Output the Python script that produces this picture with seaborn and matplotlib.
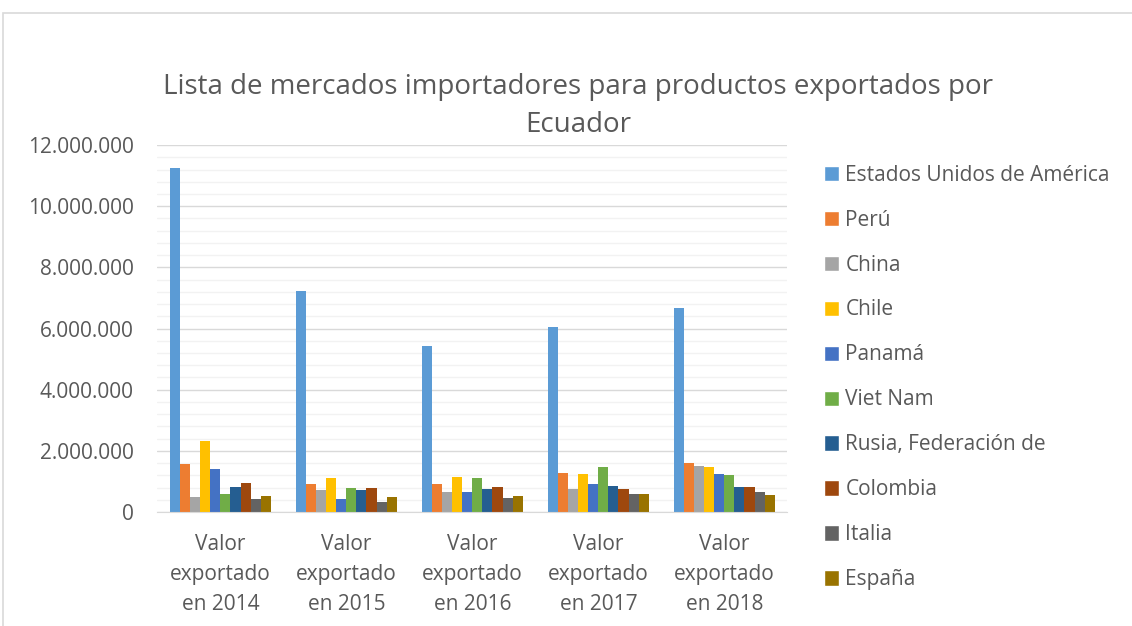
import numpy as np
import pandas as pd
import seaborn as sns
import matplotlib.pyplot as plt
from matplotlib.patches import Patch, Rectangle
from matplotlib.ticker import FuncFormatter, MultipleLocator

# data
years = ['Valor\nexportado\nen 2014', 'Valor\nexportado\nen 2015', 'Valor\nexportado\nen 2016',
         'Valor\nexportado\nen 2017', 'Valor\nexportado\nen 2018']
countries = ['Estados Unidos de América', 'Perú', 'China', 'Chile', 'Panamá',
             'Viet Nam', 'Rusia, Federación de', 'Colombia', 'Italia', 'España']

usa      = [11250000, 7220000, 5430000, 6060000, 6670000]
peru     = [1580000, 930000, 930000, 1270000, 1620000]
china    = [480000, 710000, 640000, 770000, 1490000]
chile    = [2330000, 1130000, 1140000, 1240000, 1460000]
panama   = [1400000, 440000, 650000, 930000, 1240000]
vietnam  = [590000, 780000, 1110000, 1460000, 1210000]
rusia    = [820000, 710000, 770000, 840000, 820000]
colombia = [950000, 780000, 810000, 750000, 820000]
italia   = [430000, 320000, 450000, 580000, 650000]
espana   = [520000, 480000, 540000, 600000, 570000]

series = [usa, peru, china, chile, panama, vietnam, rusia, colombia, italia, espana]
colors = ['#5B9BD5', '#ED7D31', '#A5A5A5', '#FFC000', '#4472C4',
          '#70AD47', '#255E91', '#9E480E', '#636363', '#997300']

rows = []
for c, vals in zip(countries, series):
    for y, v in zip(years, vals):
        rows.append({'year': y, 'country': c, 'value': v})
df = pd.DataFrame(rows)

sns.set_style('white')
plt.rcParams['font.family'] = ['Open Sans', 'DejaVu Sans']
txt = '#595959'

fig = plt.figure(figsize=(11.32, 6.26), dpi=100)
ax = fig.add_axes([0.139, 0.182, 0.5565, 0.5863])

sns.barplot(data=df, x='year', y='value', hue='country', palette=colors,
            order=years, hue_order=countries, width=0.8, saturation=1,
            edgecolor='none', legend=False, ax=ax)

ax.set_ylim(0, 12000000)
ax.yaxis.set_major_locator(MultipleLocator(2000000))
ax.yaxis.set_minor_locator(MultipleLocator(400000))
ax.yaxis.set_major_formatter(FuncFormatter(lambda v, p: f'{int(v):,}'.replace(',', '.')))
ax.grid(axis='y', which='major', color='#D9D9D9', linewidth=1)
ax.grid(axis='y', which='minor', color='#F2F2F2', linewidth=1)
ax.set_axisbelow(True)
for s in ['top', 'right', 'left']:
    ax.spines[s].set_visible(False)
ax.spines['bottom'].set_color('#D9D9D9')
ax.tick_params(axis='both', which='both', length=0, labelsize=15, colors=txt)
ax.tick_params(axis='y', pad=17)
ax.tick_params(axis='x', pad=16)
for lab in ax.get_xticklabels():
    lab.set_linespacing(1.55)
ax.set_xlabel('')
ax.set_ylabel('')

fig.text(0.511, 0.831, 'Lista de mercados importadores para productos exportados por\nEcuador',
         ha='center', va='center', fontsize=20, color=txt, linespacing=1.45)

handles = [Patch(facecolor=c, label=n) for c, n in zip(colors, countries)]
fig.legend(handles=handles, loc='upper left', bbox_to_anchor=(0.711, 0.767),
           frameon=False, fontsize=15, labelcolor=txt, handlelength=0.75,
           handleheight=0.75, handletextpad=0.3, labelspacing=1.15)

# light chart border
fig.patches.append(Rectangle((0.003, -0.05), 1.2, 1.029, transform=fig.transFigure,
                             fill=False, edgecolor='#D9D9D9', linewidth=1.2))

plt.savefig('out.png', dpi=100)
